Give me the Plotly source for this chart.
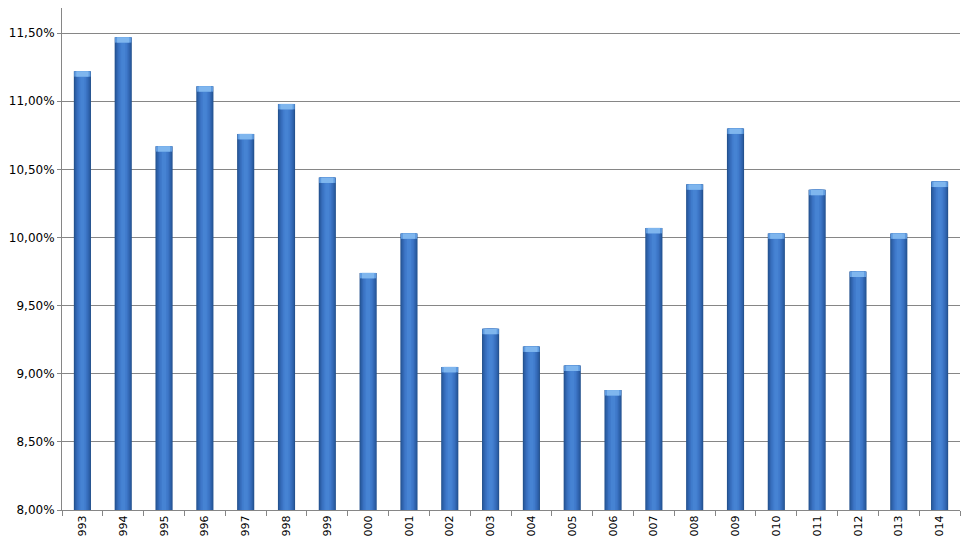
import plotly.graph_objects as go

years = [str(y) for y in range(1993, 2015)]
values = [0.1122, 0.1147, 0.1067, 0.1111, 0.1076, 0.1098, 0.1044, 0.0974, 0.1003,
          0.0905, 0.0933, 0.0920, 0.0906, 0.0888, 0.1007, 0.1039, 0.1080, 0.1003,
          0.1035, 0.0975, 0.1003, 0.1041]

# layered bars to imitate the cylinder shading
layers = [(0.42, "#24528f"), (0.37, "#2c5fa6"), (0.31, "#3368b4"),
          (0.25, "#3a72c2"), (0.18, "#407bcc"), (0.10, "#4683d3")]
cap_height = 0.0004

fig = go.Figure()
for w, c in layers:
    fig.add_trace(go.Bar(x=years, y=values, base=0, width=w, marker=dict(color=c, line=dict(width=0)),
                         hoverinfo="skip", showlegend=False))
# light top cap
for w, c in [(0.40, "#5f9be0"), (0.30, "#7fb6ee")]:
    fig.add_trace(go.Bar(x=years, y=[cap_height] * len(values), base=[v - cap_height for v in values],
                         width=w, marker=dict(color=c, line=dict(width=0)),
                         hoverinfo="skip", showlegend=False))

W, L, R = 968, 54, 16
plot_w = W - L - R
fig.update_layout(
    width=W, height=529,
    margin=dict(l=L, r=R, t=0, b=27),
    barmode="overlay",
    plot_bgcolor="white", paper_bgcolor="white",
    separators=", ",
    font=dict(family="DejaVu Sans", size=12, color="#000000"),
    showlegend=False,
    shapes=[dict(type="line", xref="paper", yref="paper",
                 x0=(W - L - 3) / plot_w, x1=(W - L - 3) / plot_w, y0=0, y1=1.06,
                 line=dict(color="#9a9a9a", width=1))],
)
fig.update_xaxes(
    type="category", tickangle=-90, tickson="boundaries", ticks="outside", ticklen=5,
    tickcolor="#868686", showline=True, linecolor="#868686", linewidth=1,
    showgrid=False, automargin=False, tickfont=dict(size=11),
)
fig.update_yaxes(
    range=[0.08, 0.11684], tickvals=[0.08, 0.085, 0.09, 0.095, 0.10, 0.105, 0.11, 0.115],
    tickformat=".2%", ticks="outside", ticklen=4, tickcolor="#868686",
    showline=True, linecolor="#868686", linewidth=1,
    showgrid=True, gridcolor="#868686", gridwidth=1, zeroline=False, automargin=False,
)
fig.write_html("out.html")
